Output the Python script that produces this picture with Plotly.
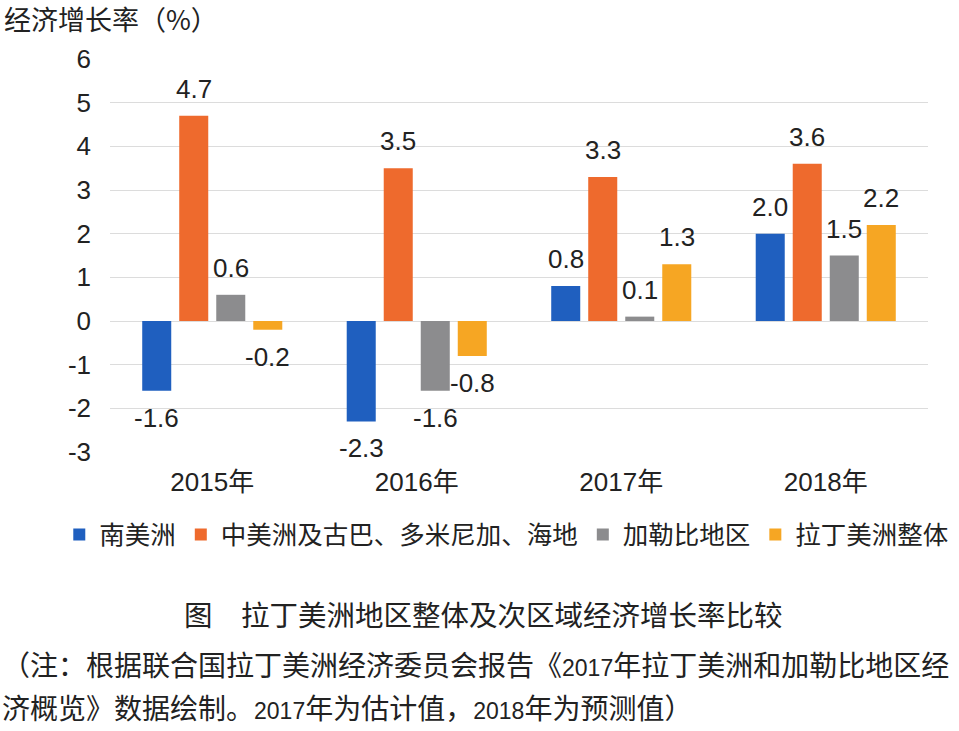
import plotly.graph_objects as go

years = ["2015年", "2016年", "2017年", "2018年"]
series_names = ["南美洲", "中美洲及古巴、多米尼加、海地", "加勒比地区", "拉丁美洲整体"]
south_america = [-1.6, -2.3, 0.8, 2.0]
central_america = [4.7, 3.5, 3.3, 3.6]
caribbean = [0.6, -1.6, 0.1, 1.5]
latin_america = [-0.2, -0.8, 1.3, 2.2]
y_ticks = [-3, -2, -1, 0, 1, 2, 3, 4, 5, 6]
y_tick_labels = [str(v) for v in y_ticks]

colors = ["#1F5FBF", "#EE6A2D", "#8C8C8E", "#F6A623"]
FONT = "Liberation Sans, Arial, Noto Sans CJK SC, sans-serif"
CJK = "Noto Sans CJK SC, Liberation Sans, sans-serif"

all_series = [south_america, central_america, caribbean, latin_america]

fig = go.Figure()
for name, vals, col in zip(series_names, all_series, colors):
    fig.add_trace(go.Bar(x=years, y=vals, name=name, marker_color=col,
                         marker_line_width=0))

fig.update_layout(
    barmode="group",
    bargap=0.276,
    bargroupgap=0.216,
    width=959, height=731,
    margin=dict(l=110, r=31, t=59, b=279),
    plot_bgcolor="white", paper_bgcolor="white",
    font=dict(family=FONT, size=26, color="#222222"),
    showlegend=True,
    legend=dict(orientation="h", x=-0.062, xanchor="left", y=-0.211, yanchor="middle",
                font=dict(family=CJK, size=25.5, color="#222222"),
                itemwidth=30, traceorder="normal"),
)
fig.update_yaxes(range=[-3, 6], tickvals=y_ticks, ticktext=y_tick_labels,
                 showgrid=True, gridcolor="#DCDCDC",
                 gridwidth=1, zeroline=True, zerolinecolor="#DCDCDC", zerolinewidth=1,
                 showline=False, ticks="", ticklabelstandoff=18,
                 tickfont=dict(family=FONT, size=26, color="#222222"))
fig.update_xaxes(showline=False, ticks="", ticklabelstandoff=12,
                 tickfont=dict(family=FONT, size=26, color="#222222"))

# data labels (Excel outside-end style)
n = len(all_series)
for i, vals in enumerate(all_series):
    for j, v in enumerate(vals):
        fig.add_annotation(x=years[j], y=v, xref="x", yref="y",
                           text=f"{v:.1f}", showarrow=False,
                           xshift=(i - (n - 1) / 2) * 37,
                           yshift=27 if v >= 0 else -27,
                           font=dict(family=FONT, size=26, color="#222222"))

def digits(s):
    return f'<span style="font-size:23px">{s}</span>'

# y axis title
fig.add_annotation(xref="paper", yref="paper", x=-0.132, y=1.104, xanchor="left", yanchor="middle",
                   text="经济增长率（%）", showarrow=False,
                   font=dict(family=CJK, size=27, color="#222222"))
# caption
fig.add_annotation(xref="paper", yref="paper", x=0.456, y=-0.410, xanchor="center", yanchor="middle",
                   text="图　拉丁美洲地区整体及次区域经济增长率比较", showarrow=False,
                   font=dict(family=CJK, size=28.5, color="#222222"))
fig.add_annotation(xref="paper", yref="paper", x=-0.1345, y=-0.547, xanchor="left", yanchor="middle",
                   text="（注：根据联合国拉丁美洲经济委员会报告《" + digits("2017") + "年拉丁美洲和加勒比地区经",
                   showarrow=False, font=dict(family=FONT, size=28, color="#222222"))
fig.add_annotation(xref="paper", yref="paper", x=-0.1345, y=-0.654, xanchor="left", yanchor="middle",
                   text="济概览》数据绘制。" + digits("2017") + "年为估计值，" + digits("2018") + "年为预测值）",
                   showarrow=False, font=dict(family=FONT, size=28, color="#222222"))

fig.write_html("out.html", config={"displayModeBar": False},
               post_script="document.body.style.margin='0';")
